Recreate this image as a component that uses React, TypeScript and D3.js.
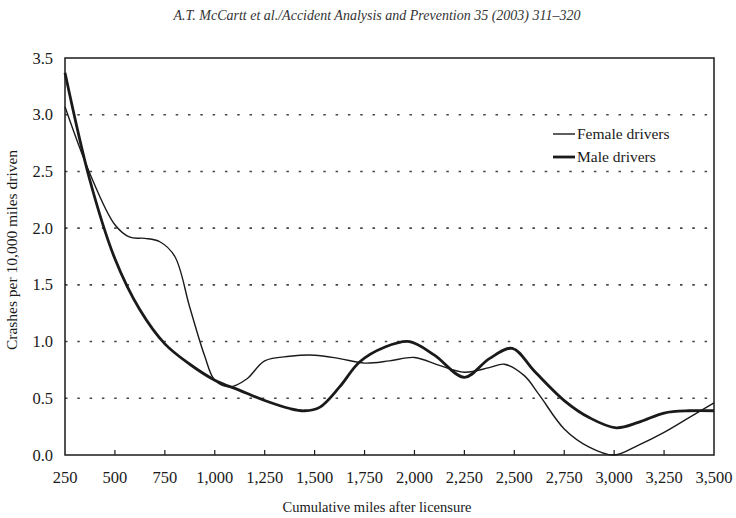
import React from "react";
import * as d3 from "d3";

const femaleMiles = [250, 375, 500, 575, 650, 725, 800, 875, 950, 1000, 1075, 1160, 1250, 1375, 1500, 1625, 1750, 1875, 2000, 2125, 2250, 2375, 2450, 2550, 2625, 2750, 2875, 3000, 3125, 3250, 3375, 3500];
const femaleRates = [3.07, 2.48, 2.03, 1.92, 1.91, 1.88, 1.75, 1.3, 0.87, 0.66, 0.6, 0.67, 0.83, 0.87, 0.88, 0.85, 0.81, 0.83, 0.86, 0.79, 0.73, 0.77, 0.8, 0.7, 0.53, 0.23, 0.07, 0.0, 0.09, 0.2, 0.33, 0.46];
const maleMiles = [250, 375, 500, 625, 750, 875, 1000, 1125, 1250, 1375, 1450, 1525, 1625, 1725, 1850, 1975, 2100, 2250, 2375, 2490, 2600, 2750, 2875, 3010, 3125, 3250, 3375, 3500];
const maleRates = [3.37, 2.42, 1.73, 1.28, 0.98, 0.8, 0.66, 0.57, 0.48, 0.41, 0.39, 0.42, 0.6, 0.82, 0.95, 1.0, 0.88, 0.685, 0.85, 0.94, 0.74, 0.48, 0.33, 0.24, 0.29, 0.37, 0.39, 0.39];
const xTicks = [250, 500, 750, 1000, 1250, 1500, 1750, 2000, 2250, 2500, 2750, 3000, 3250, 3500];
const yTicks = [0, 0.5, 1, 1.5, 2, 2.5, 3, 3.5];
const seriesNames = ["Female drivers", "Male drivers"];

const W = 736, H = 518;
const M = { left: 65, right: 714, top: 58, bottom: 455 };
const FONT = "'Liberation Serif', 'DejaVu Serif', serif";

export default function App() {
  const x = d3.scaleLinear().domain([250, 3500]).range([M.left, M.right]);
  const y = d3.scaleLinear().domain([0, 3.5]).range([M.bottom, M.top]);
  const mk = (xs: number[]) =>
    d3
      .line<number>()
      .x((_, i) => x(xs[i]))
      .y((d) => y(d))
      .curve(d3.curveCatmullRom.alpha(0.5));
  const fmt = d3.format(",");
  const ink = "#1a1a1a";
  return (
    <svg width={W} height={H} style={{ position: "absolute", left: 0, top: 0, background: "#fff" }} fontFamily={FONT}>
      <rect x={0} y={0} width={W} height={H} fill="#fff" />
      <text x={377} y={20} textAnchor="middle" fontSize={14} fontStyle="italic" fill="#333">
        A.T. McCartt et al./Accident Analysis and Prevention 35 (2003) 311–320
      </text>
      {yTicks.filter((t) => t > 0 && t < 3.5).map((t) => (
        <line key={t} x1={M.left} x2={M.right} y1={y(t)} y2={y(t)} stroke="#444" strokeWidth={1.6} strokeDasharray="2.5 9.8" />
      ))}
      <rect x={M.left} y={M.top} width={M.right - M.left} height={M.bottom - M.top} fill="none" stroke={ink} strokeWidth={1.5} />
      {xTicks.slice(1, -1).map((t) => (
        <line key={t} x1={x(t)} x2={x(t)} y1={M.bottom} y2={M.bottom - 5} stroke={ink} strokeWidth={1.2} />
      ))}
      {xTicks.map((t) => (
        <text key={t} x={x(t)} y={483} textAnchor="middle" fontSize={16.5} fill={ink}>{fmt(t)}</text>
      ))}
      {yTicks.map((t) => (
        <text key={t} x={53} y={y(t) + 5.5} textAnchor="end" fontSize={16.5} fill={ink}>{t.toFixed(1)}</text>
      ))}
      <text x={377} y={512} textAnchor="middle" fontSize={14.5} fill={ink}>Cumulative miles after licensure</text>
      <text transform={`translate(17,250) rotate(-90)`} textAnchor="middle" fontSize={15.5} fill={ink}>
        Crashes per 10,000 miles driven
      </text>
      <path d={mk(femaleMiles)(femaleRates) || ""} fill="none" stroke={ink} strokeWidth={1.4} />
      <path d={mk(maleMiles)(maleRates) || ""} fill="none" stroke={ink} strokeWidth={2.8} />
      <line x1={553} x2={575} y1={134} y2={134} stroke={ink} strokeWidth={1.4} />
      <line x1={553} x2={575} y1={157} y2={157} stroke={ink} strokeWidth={2.8} />
      <text x={577} y={139} fontSize={15.5} fill={ink}>{seriesNames[0]}</text>
      <text x={577} y={162} fontSize={15.5} fill={ink}>{seriesNames[1]}</text>
    </svg>
  );
}
